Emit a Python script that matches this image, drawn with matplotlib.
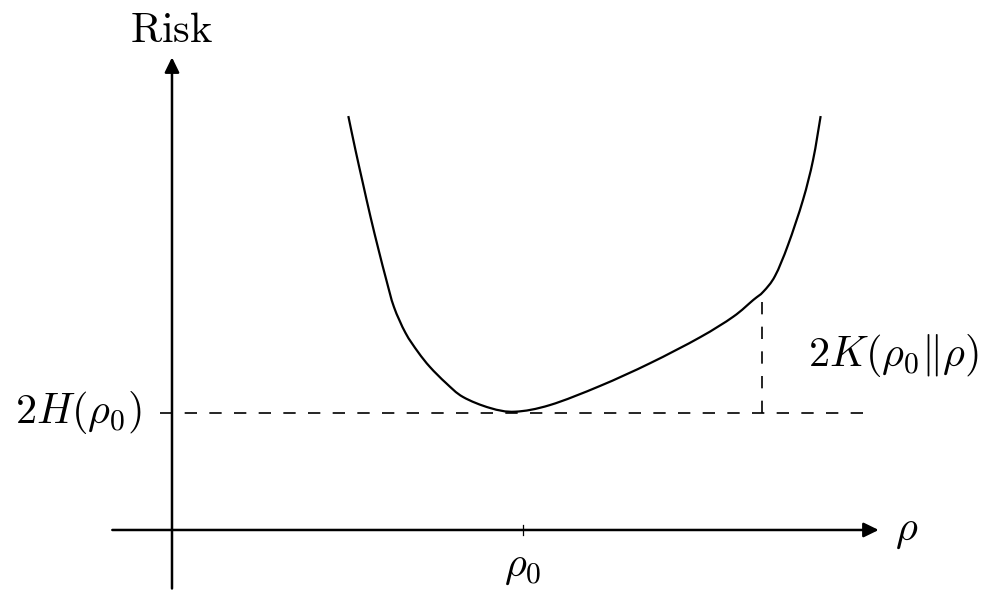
import matplotlib
matplotlib.use("Agg")
import matplotlib.pyplot as plt
from matplotlib.patches import PathPatch
from matplotlib.path import Path

plt.rcParams["mathtext.fontset"] = "cm"
plt.rcParams["font.family"] = "serif"
plt.rcParams["font.serif"] = ["DejaVu Serif"]

FONT_SIZE = 30.5

# risk curve (x: rho, y: risk)
rho_values = [1.507, 1.568, 1.631, 1.697, 1.766, 1.832, 1.897, 1.996, 2.103,
              2.205, 2.342, 2.487, 2.718, 2.932, 3.231, 3.658, 4.085, 4.513,
              4.797, 4.968, 5.054, 5.154, 5.265, 5.393, 5.479, 5.544]
risk_values = [3.538, 3.248, 2.966, 2.675, 2.393, 2.137, 1.906, 1.684, 1.521,
               1.393, 1.256, 1.137, 1.043, 1.011, 1.068, 1.231, 1.425, 1.647,
               1.823, 1.966, 2.037, 2.171, 2.436, 2.821, 3.162, 3.538]

entropy_level = 1.0
entropy_line_x = [-0.1, 5.95]
rho0 = 3.0
rho_gap = 5.04
risk_gap_top = 1.98

x_axis_range = [-0.51, 6.04]
y_axis_range = [-0.5, 4.04]

y_label = r"$\mathrm{Risk}$"
x_label = r"$\rho$"
rho0_label = r"$\rho_0$"
entropy_label = r"$2H(\rho_0)$"
gap_label = r"$2K(\rho_0\|\rho)$"


def smooth_path(xs, ys) -> Path:
    """Catmull-Rom curve through the points, as cubic Bezier segments."""
    pts = list(zip(xs, ys))
    verts = [pts[0]]
    codes = [Path.MOVETO]
    for i in range(len(pts) - 1):
        p0 = pts[i - 1] if i > 0 else pts[i]
        p1 = pts[i]
        p2 = pts[i + 1]
        p3 = pts[i + 2] if i + 2 < len(pts) else pts[i + 1]
        c1 = (p1[0] + (p2[0] - p0[0]) / 6, p1[1] + (p2[1] - p0[1]) / 6)
        c2 = (p2[0] - (p3[0] - p1[0]) / 6, p2[1] - (p3[1] - p1[1]) / 6)
        verts += [c1, c2, p2]
        codes += [Path.CURVE4] * 3
    return Path(verts, codes)


def main() -> None:
    fig = plt.figure(figsize=(9.93, 5.90), dpi=100)
    ax = fig.add_axes([0, 0, 1, 1])
    ax.set_xlim(-1.47, 7.017)
    ax.set_ylim(-0.513, 4.53)
    ax.axis("off")

    arrow = dict(arrowstyle="-|>,head_length=0.45,head_width=0.22", lw=1.8,
                 color="black", shrinkA=0, shrinkB=0, mutation_scale=20)
    ax.annotate("", xy=(x_axis_range[1], 0), xytext=(x_axis_range[0], 0),
                arrowprops=arrow)
    ax.annotate("", xy=(0, y_axis_range[1]), xytext=(0, y_axis_range[0]),
                arrowprops=arrow)

    ax.plot([rho0, rho0], [-0.045, 0.045], color="black", lw=0.9)

    dashes = (0, (7.4, 7.4))
    ax.plot(entropy_line_x, [entropy_level, entropy_level], color="black",
            lw=1.2, linestyle=dashes)
    ax.plot([rho_gap, rho_gap], [entropy_level, risk_gap_top], color="black",
            lw=1.2, linestyle=dashes)

    ax.add_patch(PathPatch(smooth_path(rho_values, risk_values), fill=False,
                           edgecolor="black", lw=1.6, capstyle="butt"))

    ax.text(0, 4.171, y_label, fontsize=FONT_SIZE, ha="center", va="baseline")
    ax.text(6.18, 0, x_label, fontsize=FONT_SIZE, ha="left", va="center")
    ax.text(rho0, -0.128, rho0_label, fontsize=FONT_SIZE, ha="center", va="top")
    ax.text(-0.256, 0.915, entropy_label, fontsize=FONT_SIZE, ha="right",
            va="baseline")
    ax.text(5.436, 1.40, gap_label, fontsize=FONT_SIZE, ha="left", va="baseline")

    fig.savefig("out.png", dpi=100)
    plt.close(fig)


if __name__ == "__main__":
    main()
